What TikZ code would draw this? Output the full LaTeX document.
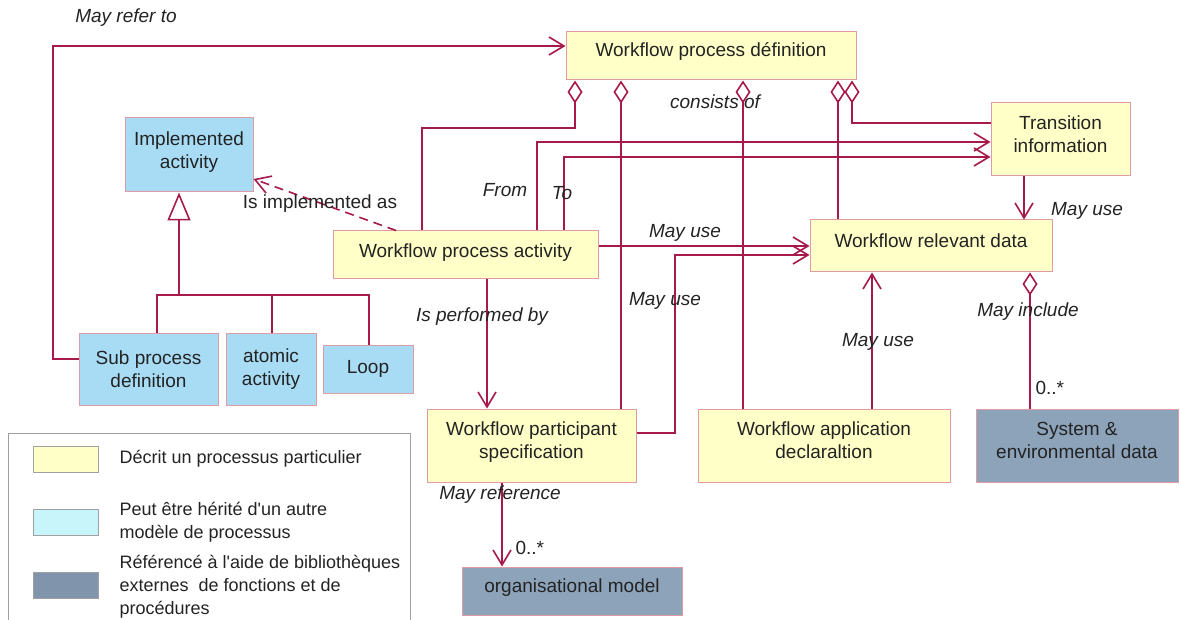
\documentclass[tikz,border=0pt]{standalone}
\usepackage{fontspec}
\setmainfont{Liberation Sans}
\usetikzlibrary{arrows.meta}
\definecolor{lnk}{RGB}{165,25,75}
\definecolor{ylw}{RGB}{255,255,200}
\definecolor{blu}{RGB}{168,220,245}
\definecolor{gbl}{RGB}{140,163,186}
\definecolor{cyn}{RGB}{200,245,250}
\definecolor{gsw}{RGB}{128,148,172}
\definecolor{bdr}{RGB}{225,155,165}
\definecolor{txt}{RGB}{35,35,35}
\definecolor{lgd}{RGB}{160,160,160}
\begin{document}
\begin{tikzpicture}[x=1pt,y=-1pt,
  every node/.style={font=\fontsize{19}{23}\selectfont, text=txt},
  box/.style={draw=bdr, line width=1pt, align=center, inner sep=0pt},
  yb/.style={box, fill=ylw},
  bb/.style={box, fill=blu},
  gb/.style={box, fill=gbl},
  lnkline/.style={draw=lnk, line width=1.6pt},
  nav/.style={lnkline, -{Straight Barb[length=15pt,width=18pt]}},
  aggr/.style={lnkline, {Diamond[open,length=23pt,width=15pt]}-},
  inh/.style={lnkline, -{Triangle[open,length=28pt,width=23pt]}},
  dep/.style={lnkline, dash pattern=on 9pt off 6pt, -{Straight Barb[length=15pt,width=18pt]}},
  lab/.style={font=\fontsize{19}{23}\selectfont\itshape},
  ulab/.style={font=\fontsize{19}{23}\selectfont},
  swatch/.style={draw=lgd, line width=1pt, minimum width=65pt, minimum height=26pt, inner sep=0pt},
  lgtext/.style={font=\fontsize{18}{23}\selectfont, align=left, anchor=west},
]
\useasboundingbox (0,0) rectangle (1180,620);

% nodes
\node[yb, minimum width=290pt, minimum height=48pt, text depth=12pt] (wpd) at (711,56) {Workflow process définition};
\node[bb, minimum width=128pt, minimum height=74pt, text depth=10pt] (impl) at (189,155) {Implemented\\activity};
\node[bb, minimum width=139pt, minimum height=72pt] (sub) at (148.5,369) {Sub process\\definition};
\node[bb, minimum width=90pt, minimum height=72pt] (atom) at (271,369) {atomic\\activity};
\node[bb, minimum width=90pt, minimum height=48pt] (loop) at (368,369) {Loop};
\node[yb, minimum width=265pt, minimum height=48pt, text depth=8pt] (wpa) at (465.5,255) {Workflow process activity};
\node[yb, minimum width=139pt, minimum height=73pt, text depth=10pt] (trans) at (1060.5,139.5) {Transition\\information};
\node[yb, minimum width=242pt, minimum height=52pt, text depth=10pt] (wrd) at (931,246) {Workflow relevant data};
\node[yb, minimum width=209pt, minimum height=73pt, text depth=10pt] (part) at (531.5,445.5) {Workflow participant\\specification};
\node[yb, minimum width=252pt, minimum height=73pt, text depth=10pt] (app) at (824,445.5) {Workflow application\\declaraltion};
\node[gb, minimum width=202pt, minimum height=73pt, text depth=10pt] (sys) at (1077,445.5) {System \&\\environmental data};
\node[gb, minimum width=220pt, minimum height=48pt, text depth=10pt] (org) at (572,591) {organisational model};

% connectors
\draw[nav] (sub.west |- 0,359) -| (53,46) -- (wpd.west |- 0,46);
\draw[dep] (396,0 |- wpa.north) -- (impl.east |- 0,179);
\draw[aggr] (575,0 |- wpd.south) |- (422,128) -- (422,0 |- wpa.north);
\draw[aggr] (621,0 |- wpd.south) -- (621,0 |- part.north);
\draw[aggr] (743,0 |- wpd.south) -- (743,0 |- app.north);
\draw[aggr] (838,0 |- wpd.south) -- (838,0 |- wrd.north);
\draw[aggr] (852,0 |- wpd.south) |- (trans.west |- 0,123);
\draw[nav] (537,0 |- wpa.north) |- (trans.west |- 0,142);
\draw[nav] (564,0 |- wpa.north) |- (trans.west |- 0,157);
\draw[nav] (wpa.east |- 0,246) -- (wrd.west |- 0,246);
\draw[nav] (part.east |- 0,433) -| (675,255) -- (wrd.west |- 0,255);
\draw[nav] (487,0 |- wpa.south) -- (487,0 |- part.north);
\draw[nav] (1024,0 |- trans.south) -- (1024,0 |- wrd.north);
\draw[nav] (872,0 |- app.north) -- (872,0 |- wrd.south);
\draw[aggr] (1030,0 |- wrd.south) -- (1030,0 |- sys.north);
\draw[nav] (502,0 |- part.south) -- (502,0 |- org.north);
\coordinate (junc) at (179,295);
\draw[inh] (junc) -- (impl.south -| junc);
\draw[lnkline] (157,0 |- sub.north) |- (369,295) -- (369,0 |- loop.north);
\draw[lnkline] (272,0 |- atom.north) -- (272,295);

% labels
\node[lab] (lrefer) at (126,18) {May refer to};
\node[lab] (lcons) at (715,102) {consists of};
\node[ulab] (limpl) at (320,204) {Is implemented as};
\node[lab] (lfrom) at (505,190) {From};
\node[lab] (lto) at (562,193) {To};
\node[lab] (luse1) at (685,233) {May use};
\node[lab] (luse2) at (665,301) {May use};
\node[lab] (lperf) at (482,317) {Is performed by};
\node[lab] (luse3) at (878,342) {May use};
\node[lab] (linc) at (1028,312) {May include};
\node[ulab, anchor=west] (lz1) at (1032,388) {0..*};
\node[lab] (luse4) at (1087,211) {May use};
\node[lab] (lref) at (500,495) {May reference};
\node[ulab, anchor=west] (lz2) at (512,548) {0..*};

% legend
\draw[lgd, line width=1pt] (8,633) -- (8,433) -- (410,433) -- (410,633);
\node[swatch, fill=ylw] (sw1) at (65.5,459) {};
\node[swatch, fill=cyn] (sw2) at (65.5,522.5) {};
\node[swatch, fill=gsw] (sw3) at (65.5,585.5) {};
\node[lgtext] (lg1) at (116,459) {Décrit un processus particulier};
\node[lgtext] (lg2) at (116,522) {Peut être hérité d\textquotesingle un autre\\modèle de processus};
\node[lgtext] (lg3) at (116,587) {Référencé à l\textquotesingle aide de bibliothèques\\externes\ \ de fonctions et de\\procédures};
\end{tikzpicture}
\end{document}
